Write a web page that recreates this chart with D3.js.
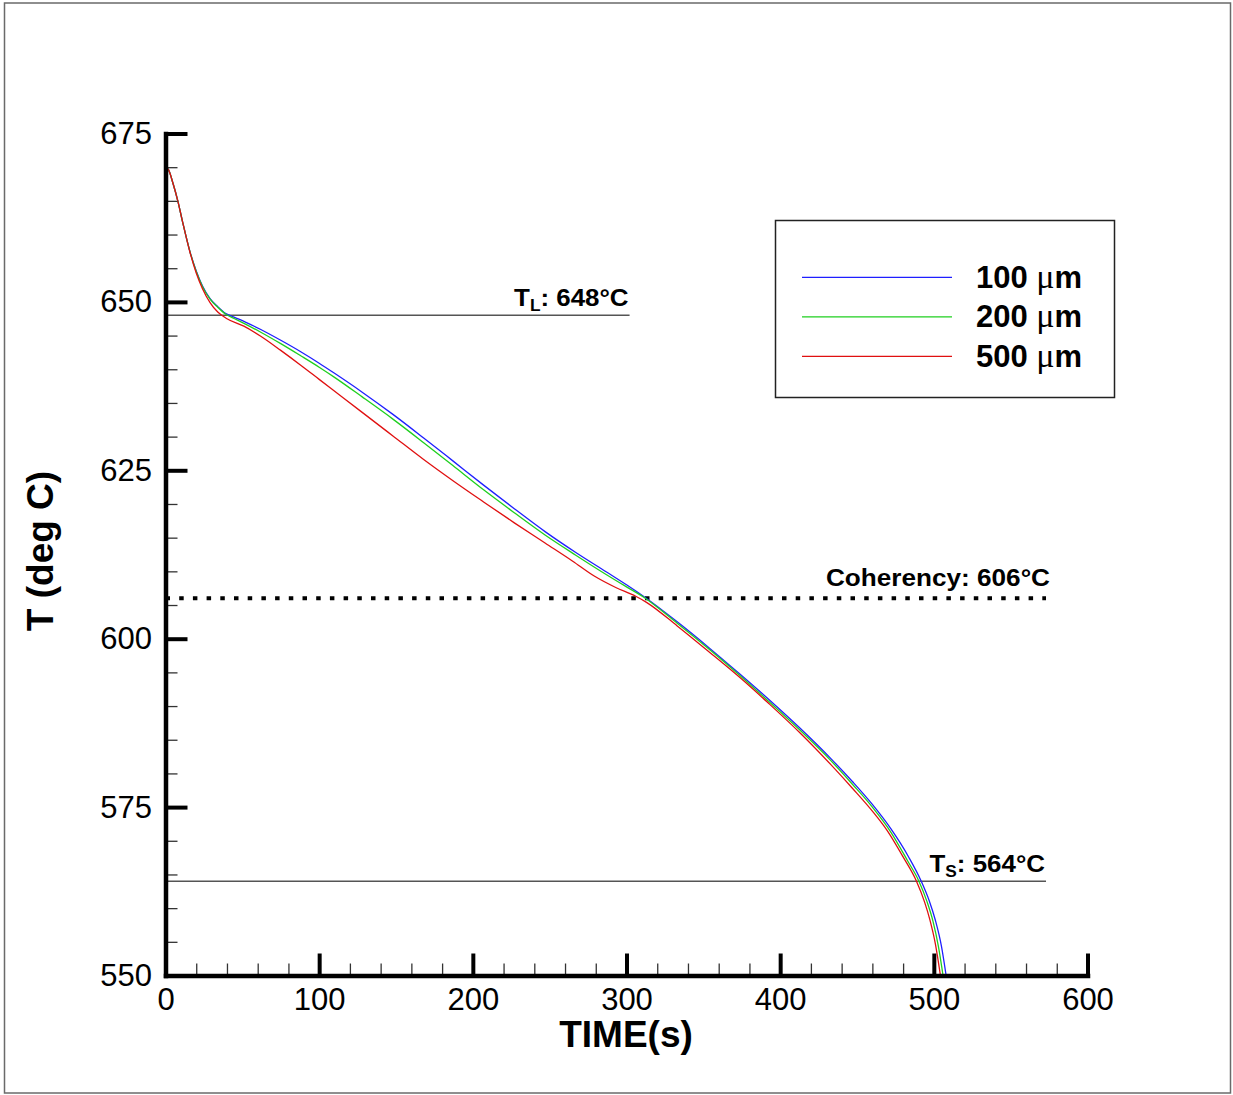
<!DOCTYPE html>
<html>
<head>
<meta charset="utf-8">
<script src="https://cdn.jsdelivr.net/npm/d3@7"></script>
<style>
  body { margin: 0; background: #fff; }
  svg { display: block; font-family: "Liberation Sans", Arial, Helvetica, sans-serif; }
</style>
</head>
<body>
<svg width="1233" height="1095"></svg>
<script>
// cooling curves, [time (s), temperature (deg C)]
const curve100 = [
  [0, 670], [2, 669.6], [5, 667.5], [8, 665], [11, 662], [16, 657.4], [20, 654.6],
  [24, 652.4], [29, 650.5], [34, 649.3], [39, 648.3], [45, 647.7], [52, 647], [62, 645.9],
  [75, 644.3], [88, 642.6], [100, 640.9], [110, 639.4], [128, 636.6], [148, 633.3],
  [168, 629.8], [187, 626.4], [207, 622.8], [227, 619.3], [247, 615.9], [267, 612.8],
  [287, 609.9], [300, 608], [311, 606.3], [333, 602.5], [354, 598.6], [373, 594.9],
  [393, 590.9], [413, 586.7], [433, 582.2], [447, 578.8], [460, 575.4], [472, 571.8],
  [483.6, 567.6], [491.8, 564], [497, 561.1], [501, 558.2], [505, 554.3], [508, 550]
];
const curve200 = [
  [0, 670], [2, 669.6], [5, 667.5], [8, 665], [11, 662], [16, 657.4], [20, 654.5],
  [24, 652.3], [29, 650.4], [34, 649.2], [39, 648.2], [45, 647.5], [52, 646.7], [62, 645.5],
  [75, 643.8], [88, 642], [100, 640.3], [110, 638.8], [128, 635.9], [148, 632.6],
  [168, 629.1], [187, 625.7], [207, 622.1], [227, 618.7], [247, 615.4], [267, 612.4],
  [287, 609.5], [300, 607.7], [311, 606.2], [333, 602.3], [354, 598.4], [373, 594.7],
  [393, 590.6], [413, 586.4], [433, 581.9], [447, 578.4], [460, 575], [472, 571.3],
  [483, 567], [490.3, 564], [495.5, 561], [499.5, 558], [503, 554.3], [506, 550]
];
const curve500 = [
  [0, 670], [2, 669.6], [5, 667.5], [8, 665], [11, 662], [16, 657.3], [20, 654.3],
  [24, 652], [29, 649.9], [34, 648.5], [40, 647.5], [51, 646.4], [62, 644.9], [75, 642.8],
  [88, 640.6], [100, 638.5], [116, 635.7], [128, 633.6], [148, 630.1], [168, 626.6],
  [188, 623.3], [207, 620.3], [227, 617.2], [247, 614.2], [265, 611.5], [279, 609.3],
  [293, 607.6], [306, 606.3], [313, 605.4], [333, 601.9], [354, 598], [374, 594.2],
  [393, 590.3], [413, 586], [433, 581.3], [447, 577.8], [460, 574.4], [470, 571.4],
  [480, 567.6], [488.7, 564], [494, 560.9], [497.4, 558.3], [501, 554.7], [504.3, 550]
];
const seriesNames = ["100 \u03bcm", "200 \u03bcm", "500 \u03bcm"];
const seriesColors = ["#1f1fff", "#1fcf1f", "#e01010"];

// reference temperatures
const refTemps = [648, 606, 564];
const refEnds = [302, 573, 573];
const refLabels = [["T", "L", ": 648\u00b0C"], ["Coherency: 606\u00b0C", "", ""], ["T", "S", ": 564\u00b0C"]];
const refDotted = [false, true, false];

const xMajor = [0, 100, 200, 300, 400, 500, 600];
const yMajor = [550, 575, 600, 625, 650, 675];

const svg = d3.select("svg");

// outer frame
svg.append("rect")
  .attr("x", 4.5).attr("y", 3)
  .attr("width", 1226).attr("height", 1090)
  .attr("fill", "none").attr("stroke", "#6a6a6a").attr("stroke-width", 1.5);

const x = d3.scaleLinear().domain([0, 600]).range([165.5, 1087.5]);
const y = d3.scaleLinear().domain([550, 675]).range([975.5, 133.5]);

svg.append("clipPath").attr("id", "plot")
  .append("rect")
  .attr("x", x(0)).attr("y", y(675))
  .attr("width", x(600) - x(0)).attr("height", y(550) - y(675));

// reference lines
refTemps.forEach((t, i) => {
  svg.append("line")
    .attr("x1", x(0)).attr("x2", x(refEnds[i]))
    .attr("y1", y(t)).attr("y2", y(t))
    .attr("stroke", refDotted[i] ? "#000" : "#555")
    .attr("stroke-width", refDotted[i] ? 4 : 1.5)
    .attr("stroke-dasharray", refDotted[i] ? "4.5,9.2" : null);

  const g = svg.append("g")
    .attr("transform", `translate(${x(refEnds[i]) + (refDotted[i] ? 4 : -1)},${y(t) - (refDotted[i] ? 12 : 9)}) scale(${refDotted[i] ? 1.09 : 1.08},1)`);
  const txt = g.append("text")
    .attr("text-anchor", "end")
    .attr("font-size", 24)
    .attr("font-weight", "bold");
  const [a, sub, b] = refLabels[i];
  txt.append("tspan").text(a);
  if (sub) {
    txt.append("tspan").attr("font-size", 16).attr("dy", 5).text(sub);
    txt.append("tspan").attr("dy", -5).text(b);
  }
});

// curves
const line = d3.line()
  .x(d => x(d[0]))
  .y(d => y(d[1]))
  .curve(d3.curveMonotoneX);

const curves = [curve100, curve200, curve500];
svg.append("g")
  .attr("clip-path", "url(#plot)")
  .selectAll("path")
  .data(curves)
  .join("path")
  .attr("d", line)
  .attr("fill", "none")
  .attr("stroke", (d, i) => seriesColors[i])
  .attr("stroke-width", 1.3);

// axes
const xMinorAxis = d3.axisBottom(x)
  .tickValues(d3.range(0, 601, 20).filter(v => v % 100 !== 0))
  .tickSize(-12).tickFormat("");
const yMinorAxis = d3.axisLeft(y)
  .tickValues(d3.range(550, 676, 5).filter(v => v % 25 !== 0))
  .tickSize(-12).tickFormat("");

const xAxis = d3.axisBottom(x).tickValues(xMajor).tickSize(-22).tickSizeOuter(0).tickPadding(12.5);
const yAxis = d3.axisLeft(y).tickValues(yMajor).tickSize(-22).tickSizeOuter(0).tickPadding(13.5);

[[xMinorAxis, `translate(0,${y(550)})`], [yMinorAxis, `translate(${x(0)},0)`]].forEach(([ax, tr]) => {
  const g = svg.append("g").attr("transform", tr).call(ax);
  g.select(".domain").remove();
  g.selectAll(".tick line").attr("stroke", "#333").attr("stroke-width", 1.3);
});

const gx = svg.append("g").attr("transform", `translate(0,${y(550)})`).call(xAxis);
const gy = svg.append("g").attr("transform", `translate(${x(0)},0)`).call(yAxis);
[gx, gy].forEach(g => {
  g.select(".domain").attr("stroke", "#000").attr("stroke-width", 4.5).attr("stroke-linecap", "square");
  g.selectAll(".tick line").attr("stroke", "#000").attr("stroke-width", 4);
  g.selectAll(".tick text")
    .attr("font-family", "Liberation Sans, Arial, sans-serif")
    .attr("font-size", 31).attr("fill", "#000");
});

// axis titles
svg.append("text")
  .attr("x", 626).attr("y", 1047)
  .attr("text-anchor", "middle")
  .attr("font-size", 37).attr("font-weight", "bold")
  .text("TIME(s)");

svg.append("text")
  .attr("transform", "translate(53,551) rotate(-90)")
  .attr("text-anchor", "middle")
  .attr("font-size", 37).attr("font-weight", "bold")
  .text("T (deg C)");

// legend
const legend = svg.append("g");
legend.append("rect")
  .attr("x", 775.5).attr("y", 220.5)
  .attr("width", 339).attr("height", 177)
  .attr("fill", "#fff").attr("stroke", "#222").attr("stroke-width", 1.5);

seriesNames.forEach((name, i) => {
  const yy = 277.3 + i * 39.5;
  legend.append("line")
    .attr("x1", 802).attr("x2", 952)
    .attr("y1", yy).attr("y2", yy)
    .attr("stroke", seriesColors[i]).attr("stroke-width", 1.3);
  const [num, unit] = name.split(" ");
  const t = legend.append("text")
    .attr("x", 976).attr("y", yy + 10.5)
    .attr("font-size", 31).attr("font-weight", "bold");
  t.append("tspan").text(num + " ");
  t.append("tspan")
    .attr("font-family", "Liberation Serif, DejaVu Serif, serif")
    .attr("font-weight", "normal")
    .attr("font-size", 34)
    .text(unit[0]);
  t.append("tspan").text(unit.slice(1));
});
</script>
</body>
</html>
